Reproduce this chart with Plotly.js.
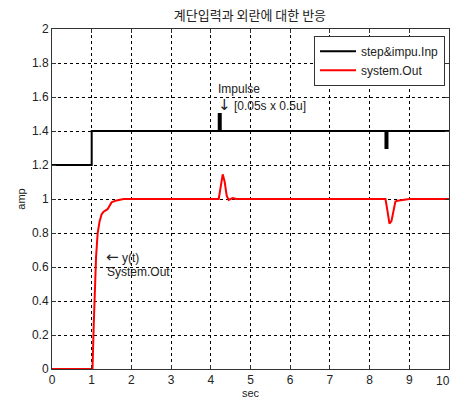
<!DOCTYPE html>
<html><head><meta charset="utf-8">
<script src="https://cdn.plot.ly/plotly-3.0.1.min.js"></script>
<style>html,body{margin:0;padding:0;background:#fff;overflow:hidden}#c{width:452px;height:406px}</style>
</head><body><div id="c"></div>
<script>
var stepX = [0, 1, 1, 4.2, 4.2, 4.25, 4.25, 8.4, 8.4, 8.45, 8.45, 10];
var stepY = [1.2, 1.2, 1.4, 1.4, 1.5, 1.5, 1.4, 1.4, 1.3, 1.3, 1.4, 1.4];
var outX = [0, 1.02, 1.05, 1.08, 1.11, 1.15, 1.2, 1.25, 1.3, 1.4, 1.5, 1.6, 1.8, 4.2, 4.25, 4.3, 4.35, 4.4, 4.45, 4.55, 4.65, 8.4, 8.45, 8.5, 8.55, 8.6, 8.65, 8.7, 8.9, 9.0, 10];
var outY = [0, 0, 0.25, 0.48, 0.66, 0.8, 0.87, 0.91, 0.925, 0.94, 0.98, 0.99, 1.0, 1.0, 1.08, 1.145, 1.1, 1.02, 0.995, 1.005, 1.0, 1.0, 0.93, 0.855, 0.87, 0.94, 0.985, 0.99, 0.995, 1.0, 1.0];
var xTicks = [0,1,2,3,4,5,6,7,8,9,10];
var yTicks = [0,0.2,0.4,0.6,0.8,1,1.2,1.4,1.6,1.8,2];
var yTickText = ['0','0.2','0.4','0.6','0.8','1','1.2','1.4','1.6','1.8','2'];

var F = 'Liberation Sans, Arial, sans-serif';
var ARW = '<span style="font-family:DejaVu Sans;font-size:15px">';
var traces = [
  {x: stepX, y: stepY, mode: 'lines', name: 'step&impu.Inp', line: {color: '#000', width: 2}},
  {x: outX, y: outY, mode: 'lines', name: 'system.Out', line: {color: '#ff0000', width: 2}}
];
var axBase = {
  showline: true, mirror: 'ticks', linecolor: '#333', linewidth: 1,
  ticks: 'inside', ticklen: 4, tickcolor: '#333',
  showgrid: true, gridcolor: '#000', gridwidth: 1, griddash: '3px,3px',
  zeroline: false, tickfont: {family: F, size: 12, color: '#222'}
};
var layout = {
  width: 452, height: 406,
  margin: {l: 52, r: 3, t: 29, b: 37},
  paper_bgcolor: '#fff', plot_bgcolor: '#fff',
  showlegend: true,
  title: {text: '계단입력과 외란에 대한 반응', font: {family: 'Noto Sans CJK KR, sans-serif', size: 13, color: '#222'}, x: 0.553, xanchor: 'center', y: 0.963, yanchor: 'middle'},
  xaxis: Object.assign({}, axBase, {range: [0, 10], tickvals: xTicks, ticktext: xTicks.map(String),
    title: {text: 'sec', font: {family: F, size: 11, color: '#222'}, standoff: 2}}),
  yaxis: Object.assign({}, axBase, {range: [0, 2], tickvals: yTicks, ticktext: yTickText,
    title: {text: 'amp', font: {family: F, size: 11, color: '#222'}, standoff: 4}}),
  legend: {x: 0.99, y: 0.98, xanchor: 'right', yanchor: 'top', bgcolor: '#fff', bordercolor: '#333', borderwidth: 1,
    font: {family: F, size: 12, color: '#222'}, tracegroupgap: 0, itemwidth: 36},
  annotations: [
    {x: 4.14, y: 1.645, xref: 'x', yref: 'y', text: 'Impulse', showarrow: false, xanchor: 'left', font: {family: F, size: 12, color: '#222'}},
    {x: 4.14, y: 1.555, xref: 'x', yref: 'y', text: ARW + '↓</span> [0.05s x 0.5u]', showarrow: false, xanchor: 'left', font: {family: F, size: 12, color: '#222'}},
    {x: 1.3, y: 0.66, xref: 'x', yref: 'y', text: ARW + '←</span> y(t)', showarrow: false, xanchor: 'left', font: {family: F, size: 12, color: '#222'}},
    {x: 1.33, y: 0.57, xref: 'x', yref: 'y', text: 'System.Out', showarrow: false, xanchor: 'left', font: {family: F, size: 12, color: '#222'}},
    {x: 10, y: 0, xref: 'x', yref: 'paper', yanchor: 'top', yshift: -3, xshift: 3, text: '10', showarrow: false, xanchor: 'right', font: {family: F, size: 12, color: '#222'}}
  ]
};
Plotly.newPlot('c', traces, layout, {displayModeBar: false, staticPlot: true});
</script></body></html>
